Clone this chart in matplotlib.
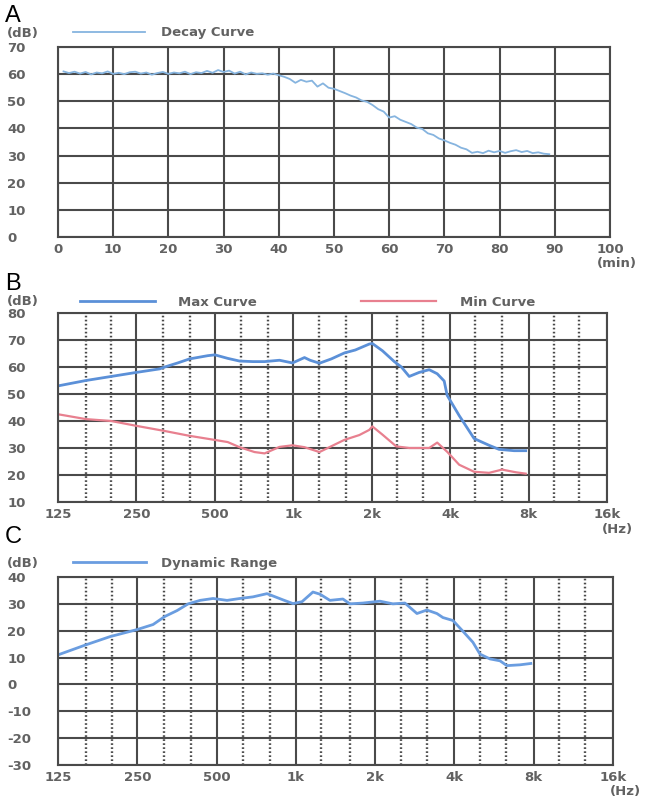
import matplotlib.pyplot as plt

plt.rcParams['font.family'] = ['DejaVu Sans']
plt.rcParams['axes.unicode_minus'] = False

# A: decay curve (min, dB)
decay_min = list(range(1, 90))
decay_db = [61.0, 60.4, 60.9, 60.2, 60.8, 59.9, 60.6, 60.3, 61.0, 60.1,
            60.5, 60.0, 60.7, 60.9, 60.2, 60.6, 59.8, 60.4, 60.8, 60.1,
            60.6, 60.3, 60.9, 60.0, 60.7, 60.4, 61.2, 60.5, 61.5, 60.8,
            61.3, 60.2, 60.9, 59.9, 60.6, 60.1, 60.3, 59.8, 60.2, 59.6,
            59.0, 58.2, 56.8, 57.9, 57.2, 57.6, 55.4, 56.6, 55.0, 54.6,
            53.8, 53.0, 52.1, 51.4, 50.3, 49.8, 48.6, 47.1, 46.2, 44.0,
            44.5, 43.2, 42.4, 41.6, 40.3, 39.8, 38.2, 37.6, 36.3, 35.6,
            34.7, 34.0, 32.9, 32.3, 31.0, 31.4, 30.9, 31.8, 31.2, 31.7,
            31.0, 31.6, 32.0, 31.3, 31.7, 30.9, 31.2, 30.7, 30.5]

# B: max / min curves (Hz, dB)
max_hz = [125, 160, 200, 250, 307, 321, 360, 400, 470, 500, 560, 622, 700, 776,
          885, 993, 1104, 1160, 1260, 1400, 1570, 1730, 1957, 2011, 2200, 2442,
          2600, 2786, 3043, 3324, 3568, 3795, 3896, 4333, 4944, 5642, 6160,
          7035, 7800]
max_db = [53, 55, 56.5, 58, 59.3, 60, 61.5, 63, 64.2, 64.5, 63.2, 62.2, 62, 62,
          62.5, 61.5, 63.5, 62.5, 61.4, 63, 65.2, 66.3, 68.5, 68.7, 66, 62,
          60, 56.5, 58, 59, 57.5, 54.8, 49.5, 42, 33.5, 31, 29.5,
          29, 29]
min_hz = [125, 160, 200, 250, 321, 400, 499, 560, 622, 710, 776, 885, 993, 1104,
          1260, 1438, 1570, 1793, 1957, 2011, 2196, 2484, 2786, 3324, 3568, 3896,
          4333, 4944, 5642, 6328, 7160, 7800]
min_db = [42.5, 40.7, 40, 38.2, 36.3, 34.5, 33, 32.2, 30.3, 28.5, 28, 30.4, 31, 30.3,
          28.5, 31.2, 33, 34.8, 36.7, 38, 35, 30.6, 30, 30, 32, 28.6,
          23.8, 21.2, 20.8, 22, 21, 20.5]

# C: dynamic range (Hz, dB)
dyn_hz = [125, 158, 197, 249, 287, 318, 354, 390, 433, 485, 548, 613, 687, 777,
          893, 975, 1055, 1161, 1235, 1347, 1509, 1604, 1798, 2085, 2336, 2595,
          2882, 3145, 3432, 3617, 3948, 4308, 4701, 5000, 5456, 5955, 6328, 7093,
          7800]
dyn_db = [11, 14.6, 17.8, 20.4, 22.3, 25.3, 27.5, 30, 31.3, 32, 31.3, 32, 32.6, 33.8,
          31.5, 30.1, 30.8, 34.4, 33.6, 31.3, 31.8, 30, 30.3, 31, 30, 30.3,
          26.4, 27.7, 26.4, 24.9, 23.8, 19.8, 15.7, 11.3, 9.5, 8.8, 7.0, 7.3,
          7.8]

oct_ticks = [125, 250, 500, 1000, 2000, 4000, 8000, 16000]
oct_labels = ['125', '250', '500', '1k', '2k', '4k', '8k', '16k']
third_oct = [160, 200, 315, 400, 630, 800, 1250, 1600, 2500, 3150, 5000, 6300,
             10000, 12500]

GRID = '#4a4a4a'
TXT = '#626262'
W, H = 649, 800


def fx(px):
    return px / W


def fy(py):
    return 1 - py / H


def style_axes(ax, ylo, yhi):
    ax.set_ylim(ylo, yhi)
    ax.set_yticks(range(ylo, yhi + 1, 10))
    ax.grid(which='major', color=GRID, linewidth=1.5)
    for s in ax.spines.values():
        s.set_color(GRID)
        s.set_linewidth(1.5)
    ax.tick_params(which='both', length=0, labelsize=9.5, labelcolor=TXT)
    ax.tick_params(axis='y', pad=36.5)
    ax.tick_params(axis='x', pad=4)
    for lbl in ax.get_yticklabels():
        lbl.set_ha('left')
        lbl.set_fontweight('bold')
    for lbl in ax.get_xticklabels():
        lbl.set_fontweight('bold')


fig = plt.figure(figsize=(6.49, 8.0), dpi=100)

# ---- A ----
axA = fig.add_axes([fx(58), fy(237), fx(610 - 58), (237 - 47) / H])
axA.plot(decay_min, decay_db, color='#86b4df', linewidth=1.3, label='Decay Curve')
axA.set_xlim(0, 100)
axA.set_xticks(range(0, 101, 10))
style_axes(axA, 0, 70)
axA.legend(loc='center left', bbox_to_anchor=(0.027, 1.074), frameon=False,
           borderpad=0, borderaxespad=0, handlelength=5.5, handletextpad=1.2,
           prop={'size': 9.5, 'weight': 'bold'}, labelcolor=TXT)

# ---- B ----
axB = fig.add_axes([fx(58), fy(502), fx(607 - 58), (502 - 313) / H])
axB.plot(max_hz, max_db, color='#5b90d8', linewidth=2.0, label='Max Curve')
axB.plot(min_hz, min_db, color='#e8808f', linewidth=1.6, label='Min Curve')

# ---- C ----
axC = fig.add_axes([fx(58), fy(765), fx(613 - 58), (765 - 577) / H])
axC.plot(dyn_hz, dyn_db, color='#6a9de0', linewidth=2.0, label='Dynamic Range')

for ax in (axB, axC):
    ax.set_xscale('log', base=2)
    ax.set_xlim(125, 16000)
    ax.set_xticks(oct_ticks)
    ax.set_xticklabels(oct_labels)
    ax.set_xticks(third_oct, minor=True)
    ax.set_xticklabels([], minor=True)
    ax.grid(which='minor', axis='x', color=GRID, linewidth=1.7,
            linestyle=(0, (0.7, 1.0)))

style_axes(axB, 10, 80)
style_axes(axC, -30, 40)

axB.legend(loc='center left', bbox_to_anchor=(0.04, 1.058), frameon=False, ncol=2,
           borderpad=0, borderaxespad=0, handlelength=5.7, handletextpad=1.75,
           columnspacing=7.9, prop={'size': 9.5, 'weight': 'bold'}, labelcolor=TXT)
axC.legend(loc='center left', bbox_to_anchor=(0.027, 1.074), frameon=False,
           borderpad=0, borderaxespad=0, handlelength=5.5, handletextpad=1.2,
           prop={'size': 9.5, 'weight': 'bold'}, labelcolor=TXT)

# unit labels and panel letters
unit_kw = dict(fontsize=9.5, fontweight='bold', color=TXT, va='center')
fig.text(fx(7), fy(33), '(dB)', ha='left', **unit_kw)
fig.text(fx(7), fy(302), '(dB)', ha='left', **unit_kw)
fig.text(fx(7), fy(563), '(dB)', ha='left', **unit_kw)
fig.text(fx(617), fy(264), '(min)', ha='center', **unit_kw)
fig.text(fx(617), fy(530), '(Hz)', ha='center', **unit_kw)
fig.text(fx(625), fy(792), '(Hz)', ha='center', **unit_kw)

letter_kw = dict(fontsize=17, family='Liberation Sans', color='black',
                 ha='left', va='baseline')
fig.text(fx(5), fy(22), 'A', **letter_kw)
fig.text(fx(5), fy(290), 'B', **letter_kw)
fig.text(fx(5), fy(543), 'C', **letter_kw)

fig.savefig('out.png', dpi=100)
